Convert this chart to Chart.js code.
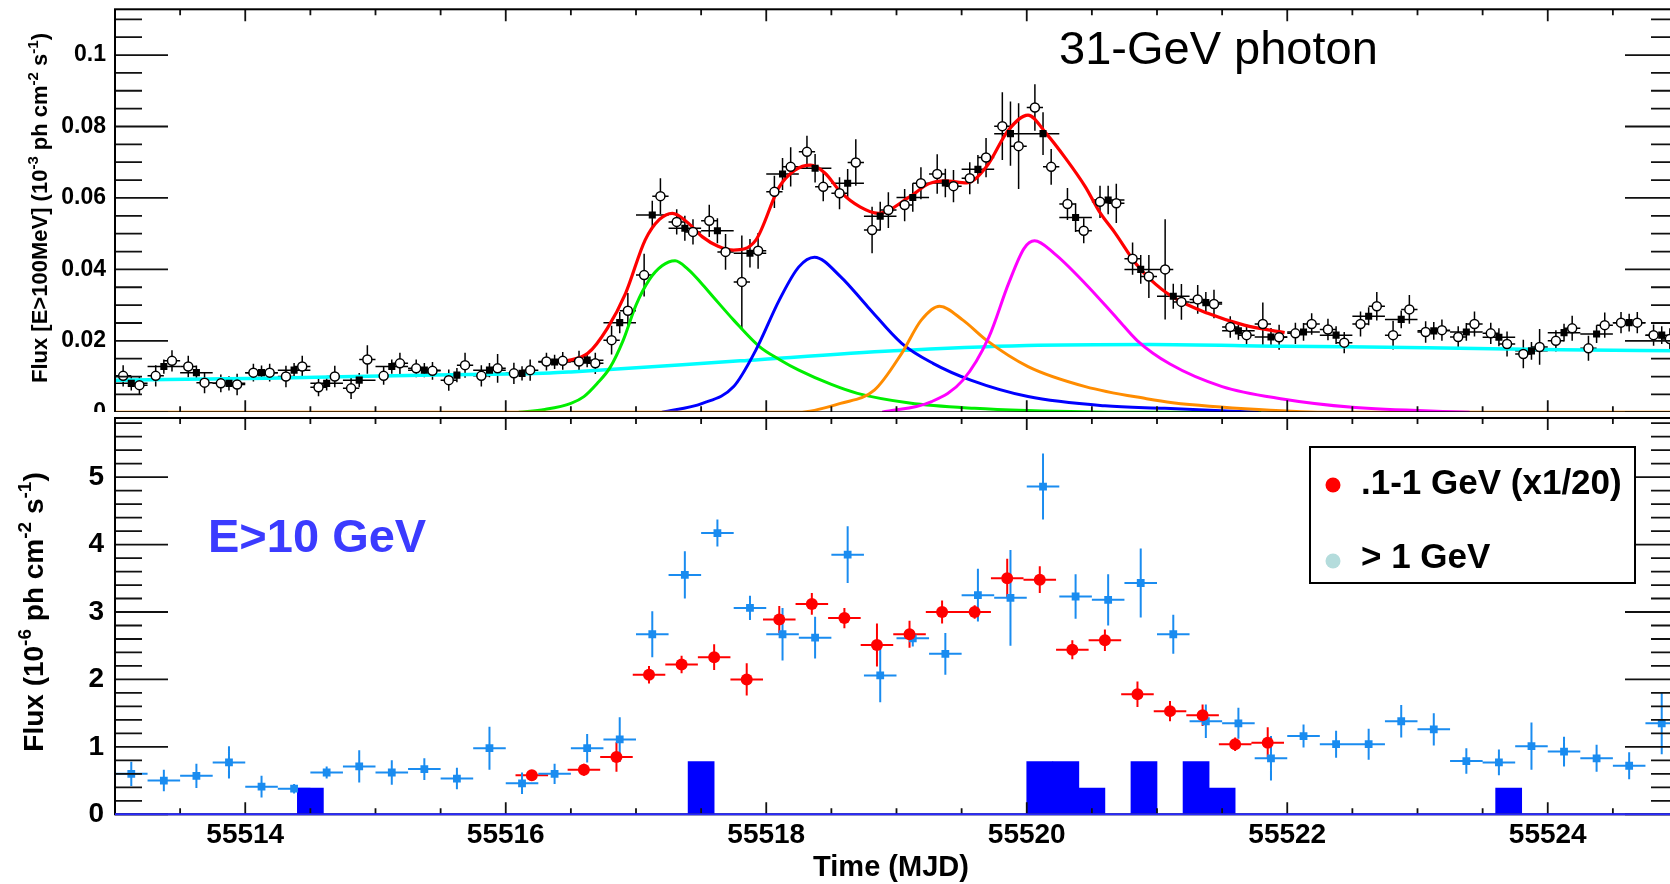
<!DOCTYPE html>
<html>
<head>
<meta charset="utf-8">
<script src="https://cdn.jsdelivr.net/npm/chart.js@4.4.1/dist/chart.umd.min.js"></script>
<style>
  html, body { margin: 0; padding: 0; background: #fff; overflow: hidden; }
  body { width: 1670px; height: 884px; position: relative; }
  #topWrap { position: absolute; left: 0; top: 0; width: 1700px; height: 430px; }
  #botWrap { position: absolute; left: 0; top: 412px; width: 1700px; height: 472px; background: #fff; }
  canvas { display: block; }
</style>
</head>
<body>
<div id="topWrap"><canvas id="topChart" width="1700" height="430"></canvas></div>
<div id="botWrap"><canvas id="botChart" width="1700" height="472"></canvas></div>
<script>
// ---- axis ranges / tick labels
const xMin = 55513, xMax = 55525;
const xTickVals = [55514, 55516, 55518, 55520, 55522, 55524];
const topYTicks = [0, 0.02, 0.04, 0.06, 0.08, 0.1];
const botYTicks = [0, 1, 2, 3, 4, 5];

// ---- top panel: 3-hour bins (open circles), E>100 MeV flux
const openStart = 55513.0625, openBin = 0.125;
const openFlux = [
  0.0102,0.0076,0.0102,0.0144,0.0128,0.0083,0.0081,0.0078,
  0.0111,0.0111,0.0100,0.0128,0.0070,0.0100,0.0067,0.0148,
  0.0102,0.0137,0.0123,0.0116,0.0090,0.0132,0.0102,0.0123,
  0.0109,0.0118,0.0142,0.0144,0.0142,0.0137,0.0202,0.0284,
  0.0384,0.0605,0.0533,0.0505,0.0536,0.0449,0.0365,0.0452,
  0.0617,0.0687,0.0729,0.0631,0.0613,0.0699,0.0510,0.0566,
  0.0580,0.0641,0.0667,0.0633,0.0655,0.0713,0.0801,0.0745,
  0.0853,0.0687,0.0583,0.0508,0.0589,0.0585,0.0430,0.0380,
  0.0400,0.0309,0.0316,0.0303,0.0239,0.0216,0.0247,0.0210,
  0.0221,0.0247,0.0232,0.0195,0.0247,0.0297,0.0216,0.0288,
  0.0225,0.0230,0.0211,0.0247,0.0221,0.0191,0.0163,0.0183,
  0.0200,0.0235,0.0179,0.0244,0.0251,0.0251,0.0216,0.0205
];
const openErr = [
  0.0030,0.0025,0.0030,0.0030,0.0030,0.0030,0.0025,0.0030,
  0.0025,0.0025,0.0030,0.0030,0.0025,0.0030,0.0030,0.0040,
  0.0025,0.0030,0.0025,0.0025,0.0030,0.0035,0.0030,0.0040,
  0.0030,0.0030,0.0025,0.0025,0.0030,0.0030,0.0040,0.0050,
  0.0060,0.0050,0.0035,0.0035,0.0045,0.0050,0.0130,0.0050,
  0.0045,0.0055,0.0045,0.0040,0.0045,0.0065,0.0065,0.0050,
  0.0045,0.0045,0.0055,0.0045,0.0045,0.0055,0.0095,0.0120,
  0.0065,0.0050,0.0045,0.0035,0.0045,0.0055,0.0045,0.0060,
  0.0140,0.0050,0.0040,0.0040,0.0030,0.0030,0.0060,0.0035,
  0.0030,0.0030,0.0030,0.0030,0.0035,0.0040,0.0040,0.0040,
  0.0030,0.0030,0.0030,0.0035,0.0030,0.0035,0.0040,0.0050,
  0.0030,0.0035,0.0035,0.0035,0.0030,0.0030,0.0030,0.0030
];

// ---- top panel: 6-hour bins (filled squares)
const sqStart = 55513.125, sqBin = 0.25;
const sqFlux = [
  0.0081,0.0128,0.0111,0.0081,0.0111,0.0118,0.0081,0.0090,
  0.0128,0.0118,0.0104,0.0118,0.0109,0.0141,0.0146,0.0251,
  0.0552,0.0515,0.0508,0.0445,0.0667,0.0683,0.0641,0.0549,
  0.0601,0.0642,0.0680,0.0780,0.0780,0.0545,0.0594,0.0400,
  0.0325,0.0307,0.0228,0.0211,0.0225,0.0216,0.0269,0.0260,
  0.0228,0.0225,0.0210,0.0172,0.0223,0.0219,0.0251,0.0216
];
const sqErr = [
  0.0020,0.0020,0.0020,0.0020,0.0020,0.0020,0.0020,0.0020,
  0.0020,0.0020,0.0020,0.0020,0.0020,0.0020,0.0020,0.0030,
  0.0040,0.0035,0.0035,0.0040,0.0045,0.0040,0.0040,0.0040,
  0.0040,0.0040,0.0040,0.0090,0.0060,0.0040,0.0040,0.0040,
  0.0035,0.0030,0.0025,0.0025,0.0025,0.0025,0.0025,0.0025,
  0.0025,0.0025,0.0025,0.0025,0.0025,0.0025,0.0025,0.0025
];

// ---- fitted curves
const fitT = [55516.45,55516.63,55516.78,55516.92,55517.07,55517.18,55517.28,55517.40,55517.51,55517.63,55517.75,55517.92,55518.10,55518.22,55518.34,55518.45,55518.57,55518.72,55518.86,55519.10,55519.25,55519.37,55519.54,55519.69,55519.86,55520.01,55520.15,55520.30,55520.45,55520.56,55520.68,55520.84,55520.94,55521.12,55521.39,55521.67,55521.98];
const fitV = [0.0142,0.0165,0.0235,0.0333,0.0482,0.0540,0.0557,0.0530,0.0491,0.0465,0.0454,0.0482,0.0631,0.0678,0.0692,0.0670,0.0617,0.0575,0.0557,0.0603,0.0640,0.0648,0.0642,0.0687,0.0790,0.0832,0.0780,0.0710,0.0631,0.0560,0.0501,0.0415,0.0375,0.0323,0.0277,0.0244,0.0223];
const greenT = [55516.10,55516.30,55516.50,55516.60,55516.70,55516.80,55516.90,55517.00,55517.10,55517.20,55517.30,55517.40,55517.50,55517.60,55517.75,55517.95,55518.10,55518.25,55518.50,55518.70,55519.10,55519.60,55520.00,55520.80,55521.80];
const greenV = [0,0.0008,0.0025,0.0044,0.0080,0.0125,0.0200,0.0300,0.0370,0.0410,0.0424,0.0400,0.0362,0.0320,0.0258,0.0183,0.0148,0.0118,0.0078,0.0053,0.0026,0.0011,0.0005,0,0];
const blueT = [55517.20,55517.51,55517.75,55517.92,55518.10,55518.25,55518.37,55518.57,55518.78,55519.04,55519.28,55519.57,55520.01,55520.60,55521.06,55521.78];
const blueV = [0,0.0025,0.0072,0.0174,0.0314,0.0407,0.0434,0.0380,0.0295,0.0193,0.0137,0.0090,0.0044,0.0018,0.0011,0];
const orangeT = [55513.0,55518.25,55518.57,55518.83,55519.04,55519.19,55519.33,55519.51,55519.69,55520.01,55520.45,55520.92,55521.12,55521.78,55522.34,55525.0];
const orangeV = [0,0,0.0025,0.0062,0.0165,0.0258,0.0297,0.0258,0.0202,0.0128,0.0072,0.0038,0.0027,0.0008,0,0];
const magentaT = [55518.89,55519.27,55519.51,55519.71,55519.86,55519.98,55520.06,55520.21,55520.45,55520.70,55520.85,55521.10,55521.50,55521.95,55522.50,55523.40];
const magentaV = [0,0.0030,0.0090,0.0211,0.0360,0.0459,0.0480,0.0445,0.0360,0.0260,0.0200,0.0135,0.0072,0.0038,0.0014,0];
const cyanT = [55513.0,55514.17,55515.35,55516.34,55516.50,55517.80,55518.98,55520.00,55520.94,55521.98,55523.07,55524.10,55525.0];
const cyanV = [0.0090,0.0095,0.0104,0.0110,0.0113,0.0144,0.0172,0.0187,0.0190,0.0185,0.0181,0.0175,0.0172];

// ---- bottom panel: E>10 GeV / >1 GeV points (6-hour bins)
const hiStart = 55513.125, hiBin = 0.25;
const hiFlux = [
  0.60,0.50,0.57,0.77,0.41,0.38,0.62,0.71,
  0.62,0.67,0.53,0.98,0.46,0.60,0.98,1.11,
  2.67,3.55,4.17,3.06,2.67,2.62,3.85,2.06,
  2.61,2.38,3.25,3.21,4.86,3.23,3.18,3.43,
  2.67,1.38,1.35,0.83,1.16,1.04,1.04,1.38,
  1.26,0.79,0.77,1.01,0.93,0.83,0.72,1.35
];
const hiErr = [
  0.18,0.16,0.18,0.24,0.16,0.07,0.09,0.24,
  0.18,0.16,0.16,0.32,0.16,0.15,0.21,0.33,
  0.34,0.35,0.20,0.18,0.39,0.31,0.42,0.40,
  0.12,0.31,0.39,0.71,0.49,0.33,0.38,0.51,
  0.29,0.25,0.23,0.33,0.17,0.20,0.23,0.24,
  0.24,0.19,0.19,0.35,0.22,0.20,0.20,0.46
];

// ---- bottom panel: 0.1-1 GeV (x1/20)
const loTime = [55516.2,55516.6,55516.85,55517.1,55517.35,55517.6,55517.85,55518.1,55518.35,55518.6,55518.85,55519.1,55519.35,55519.6,55519.85,55520.1,55520.35,55520.6,55520.85,55521.1,55521.35,55521.6,55521.85];
const loFlux = [0.58,0.66,0.85,2.07,2.22,2.33,2.00,2.89,3.12,2.91,2.51,2.67,3.00,3.00,3.50,3.48,2.44,2.58,1.78,1.53,1.47,1.04,1.06];
const loErr = [0.07,0.09,0.22,0.13,0.13,0.19,0.24,0.20,0.16,0.15,0.32,0.20,0.17,0.10,0.29,0.20,0.14,0.16,0.19,0.15,0.16,0.10,0.23];

// ---- bottom panel: E>10 GeV photon histogram (0.2 d bins)
const photonBins = [55514.5,55517.5,55520.1,55520.3,55520.5,55520.9,55521.3,55521.5,55523.7];
const photonHeights = [0.39,0.78,0.78,0.78,0.39,0.78,0.78,0.39,0.39];

const FONT = "'Liberation Sans', Arial, Helvetica, sans-serif";

const pts = (ts, vs) => ts.map((t, i) => ({ x: t, y: vs[i] }));
const binned = (start, step, vs) => vs.map((v, i) => ({ x: start + i * step, y: v }));

// error bars, drawn behind the markers
const errorBars = {
  id: 'errorBars',
  beforeDatasetsDraw(chart) {
    const { ctx, chartArea: a, scales: { x, y } } = chart;
    ctx.save();
    ctx.beginPath();
    ctx.rect(a.left, a.top, a.right - a.left, a.bottom - a.top);
    ctx.clip();
    chart.data.datasets.forEach(ds => {
      if (!ds.errY) return;
      ctx.strokeStyle = ds.errColor;
      ctx.lineWidth = ds.errWidth;
      ctx.beginPath();
      ds.data.forEach((p, i) => {
        const px = x.getPixelForValue(p.x), py = y.getPixelForValue(p.y);
        ctx.moveTo(x.getPixelForValue(p.x - ds.errX), py);
        ctx.lineTo(x.getPixelForValue(p.x + ds.errX), py);
        ctx.moveTo(px, y.getPixelForValue(p.y - ds.errY[i]));
        ctx.lineTo(px, y.getPixelForValue(p.y + ds.errY[i]));
      });
      ctx.stroke();
    });
    ctx.restore();
  }
};

// ROOT-style frame with inward ticks on all four sides
const frame = {
  id: 'frame',
  afterDraw(chart, args, o) {
    const { ctx, chartArea: a, scales: { x, y } } = chart;
    ctx.save();
    ctx.strokeStyle = '#111';
    ctx.lineWidth = 1.8;
    ctx.beginPath();
    const n = Math.floor(y.max / o.yMinor + 1e-6);
    for (let i = 0; i <= n; i++) {
      const v = i * o.yMinor;
      const major = Math.abs(v / o.yMajor - Math.round(v / o.yMajor)) < 1e-6;
      const len = major ? 53 : 27;
      const py = y.getPixelForValue(v);
      ctx.moveTo(a.left, py); ctx.lineTo(a.left + len, py);
      ctx.moveTo(a.right, py); ctx.lineTo(a.right - len, py);
    }
    const m = Math.round((x.max - x.min) / 0.5);
    for (let i = 0; i <= m; i++) {
      const v = x.min + i * 0.5;
      const major = xTickVals.includes(v);
      const len = major ? 12 : 6;
      const px = x.getPixelForValue(v);
      ctx.moveTo(px, a.bottom); ctx.lineTo(px, a.bottom - len);
      ctx.moveTo(px, a.top); ctx.lineTo(px, a.top + len);
    }
    ctx.stroke();
    ctx.lineWidth = 2;
    ctx.strokeStyle = '#000';
    ctx.strokeRect(a.left, a.top, a.right - a.left, a.bottom - a.top);
    if (o.bottomColor) {
      ctx.strokeStyle = o.bottomColor;
      ctx.beginPath();
      ctx.moveTo(a.left, a.bottom); ctx.lineTo(a.right, a.bottom);
      ctx.stroke();
    }
    ctx.restore();
  }
};

// text with superscripts, centred at (cx, cy), baseline on y=0 of rotated frame
function richText(ctx, parts, cx, cy, angle) {
  ctx.save();
  ctx.translate(cx, cy);
  ctx.rotate(angle);
  ctx.fillStyle = '#000';
  ctx.textBaseline = 'alphabetic';
  ctx.textAlign = 'left';
  let total = 0;
  parts.forEach(p => { ctx.font = p.f; p.w = ctx.measureText(p.t).width; total += p.w; });
  let x = -total / 2;
  parts.forEach(p => { ctx.font = p.f; ctx.fillText(p.t, x, p.dy || 0); x += p.w; });
  ctx.restore();
}

const topText = {
  id: 'topText',
  afterDraw(chart) {
    const ctx = chart.ctx;
    const b = 'bold 22px ' + FONT, s = 'bold 15px ' + FONT;
    richText(ctx, [
      { t: 'Flux [E>100MeV] (10', f: b },
      { t: '-3', f: s, dy: -9 },
      { t: ' ph cm', f: b },
      { t: '-2', f: s, dy: -9 },
      { t: ' s', f: b },
      { t: '-1', f: s, dy: -9 },
      { t: ')', f: b }
    ], 47, 208, -Math.PI / 2);
    ctx.save();
    ctx.fillStyle = '#000';
    ctx.font = '47px ' + FONT;
    ctx.textBaseline = 'alphabetic';
    ctx.fillText('31-GeV photon', 1059, 64);
    ctx.restore();
  }
};

const botText = {
  id: 'botText',
  afterDraw(chart) {
    const ctx = chart.ctx;
    const b = 'bold 28px ' + FONT, s = 'bold 19px ' + FONT;
    richText(ctx, [
      { t: 'Flux (10', f: b },
      { t: '-6', f: s, dy: -12 },
      { t: ' ph cm', f: b },
      { t: '-2', f: s, dy: -12 },
      { t: ' s', f: b },
      { t: '-1', f: s, dy: -12 },
      { t: ')', f: b }
    ], 43, 200, -Math.PI / 2);
    richText(ctx, [{ t: 'Time (MJD)', f: 'bold 29px ' + FONT }], 891, 464, 0);

    ctx.save();
    ctx.textBaseline = 'alphabetic';
    ctx.fillStyle = '#3b3bff';
    ctx.font = 'bold 47px ' + FONT;
    ctx.fillText('E>10 GeV', 208, 140);

    // legend box
    ctx.fillStyle = '#fff';
    ctx.fillRect(1310, 35, 325, 136);
    ctx.strokeStyle = '#000';
    ctx.lineWidth = 2;
    ctx.strokeRect(1310, 35, 325, 136);
    ctx.fillStyle = '#ff0000';
    ctx.beginPath(); ctx.arc(1333, 73, 7.5, 0, Math.PI * 2); ctx.fill();
    ctx.fillStyle = '#b4dcdc';
    ctx.beginPath(); ctx.arc(1333, 149, 7.5, 0, Math.PI * 2); ctx.fill();
    ctx.fillStyle = '#000';
    ctx.font = 'bold 35px ' + FONT;
    ctx.fillText('.1-1 GeV (x1/20)', 1361, 82);
    ctx.fillText('> 1 GeV', 1361, 156);
    ctx.restore();
  }
};

const curve = (ts, vs, color, w) => ({
  type: 'line', data: pts(ts, vs), borderColor: color, borderWidth: w,
  pointRadius: 0, fill: false, cubicInterpolationMode: 'monotone', order: 2
});

// fixed axis boxes so the chart areas land exactly on the frames
const fixY = s => { s.width = 115; s.paddingTop = 0; s.paddingBottom = 0; };

new Chart(document.getElementById('topChart'), {
  type: 'scatter',
  data: {
    datasets: [
      {
        data: binned(openStart, openBin, openFlux), pointStyle: 'circle', pointRadius: 4.5,
        backgroundColor: '#fff', borderColor: '#000', pointBorderWidth: 1.5,
        errY: openErr, errX: 0.0625, errColor: '#000', errWidth: 1.5, order: 0
      },
      {
        data: binned(sqStart, sqBin, sqFlux), pointStyle: 'rect', pointRadius: 5,
        backgroundColor: '#000', borderColor: '#000', pointBorderWidth: 0,
        errY: sqErr, errX: 0.125, errColor: '#000', errWidth: 1.5, order: 1
      },
      curve(fitT, fitV, '#ff0000', 3.2),
      curve(magentaT, magentaV, '#ff00ff', 3),
      curve(orangeT, orangeV, '#ff8c00', 3),
      curve(blueT, blueV, '#0000ff', 3),
      curve(greenT, greenV, '#00ee00', 3),
      curve(cyanT, cyanV, '#00ffff', 3.5)
    ]
  },
  options: {
    responsive: false,
    animation: false,
    devicePixelRatio: 1,
    layout: { padding: { left: 0, right: 22, top: 9.3, bottom: 17.7 } },
    plugins: { legend: { display: false }, tooltip: { enabled: false }, frame: { yMajor: 0.02, yMinor: 0.005 } },
    scales: {
      x: { type: 'linear', min: xMin, max: xMax, display: false },
      y: {
        type: 'linear', min: 0, max: 0.1128,
        grid: { display: false, drawTicks: false }, border: { display: false },
        afterBuildTicks: s => { s.ticks = topYTicks.map(v => ({ value: v })); },
        afterFit: fixY,
        ticks: {
          padding: 9, color: '#000', font: { family: FONT, size: 23, weight: 'bold' },
          callback: v => String(+v.toFixed(3))
        }
      }
    }
  },
  plugins: [errorBars, frame, topText]
});

new Chart(document.getElementById('botChart'), {
  type: 'scatter',
  data: {
    datasets: [
      {
        data: pts(loTime, loFlux), pointStyle: 'circle', pointRadius: 6,
        backgroundColor: '#ff0000', borderColor: '#ff0000', pointBorderWidth: 0,
        errY: loErr, errX: 0.125, errColor: '#ff0000', errWidth: 2, order: 0
      },
      {
        data: binned(hiStart, hiBin, hiFlux), pointStyle: 'rect', pointRadius: 5.5,
        backgroundColor: '#1a8cf0', borderColor: '#1a8cf0', pointBorderWidth: 0,
        errY: hiErr, errX: 0.125, errColor: '#1a8cf0', errWidth: 2, order: 1
      },
      {
        type: 'bar', data: pts(photonBins, photonHeights), backgroundColor: '#0000ff',
        borderWidth: 0, barPercentage: 1, categoryPercentage: 1, order: 3
      }
    ]
  },
  options: {
    responsive: false,
    animation: false,
    devicePixelRatio: 1,
    layout: { padding: { left: 0, right: 22, top: 0.3, bottom: 0 } },
    plugins: { legend: { display: false }, tooltip: { enabled: false }, frame: { yMajor: 1, yMinor: 0.2, bottomColor: '#2a2aff' } },
    scales: {
      x: {
        type: 'linear', min: xMin, max: xMax, offset: false,
        grid: { display: false, drawTicks: false }, border: { display: false },
        afterBuildTicks: s => { s.ticks = xTickVals.map(v => ({ value: v })); },
        afterFit: s => { s.height = 69.7; s.paddingLeft = 0; s.paddingRight = 0; },
        ticks: {
          padding: 4, color: '#000', maxRotation: 0, autoSkip: false,
          font: { family: FONT, size: 28, weight: 'bold' }, callback: v => String(v)
        }
      },
      y: {
        type: 'linear', min: 0, max: 5.877,
        grid: { display: false, drawTicks: false }, border: { display: false },
        afterBuildTicks: s => { s.ticks = botYTicks.map(v => ({ value: v })); },
        afterFit: fixY,
        ticks: {
          padding: 11, color: '#000', font: { family: FONT, size: 28, weight: 'bold' },
          callback: v => String(v)
        }
      }
    }
  },
  plugins: [errorBars, frame, botText]
});
</script>
</body>
</html>
